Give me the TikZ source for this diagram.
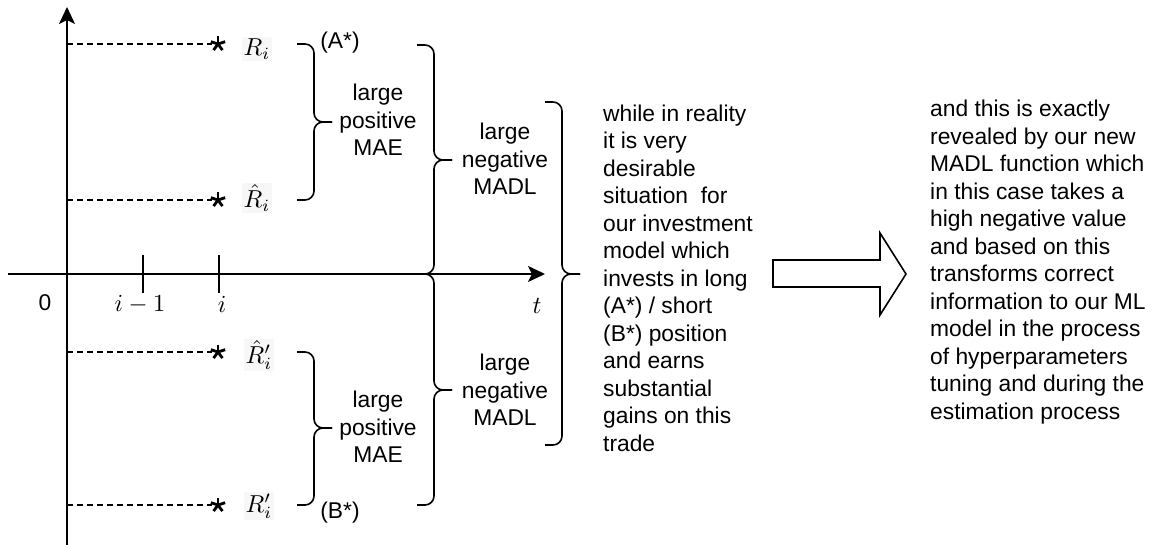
\documentclass[tikz,border=0pt]{standalone}
\usepackage{fontspec}
\usepackage{graphicx}
\setmainfont{Liberation Sans}
\usetikzlibrary{arrows.meta}
\newcommand\mystar[1]{\foreach \a in {-90,-18,54,126,198}{\draw[line width=2.8pt] (#1) -- ++(\a:7.5);}}
\newcommand\mymath[1]{\scalebox{2.45}{$#1$}}
\begin{document}
\begin{tikzpicture}[x=1pt,y=-1pt,
 lbl/.style={font=\fontsize{22.8}{27.5}\selectfont, align=center, inner sep=0},
 body/.style={font=\fontsize{22.8}{27.5}\selectfont, align=left, anchor=west, inner sep=0},
 mth/.style={inner sep=1.5pt, fill=black!3},
 plain/.style={inner sep=0},
 axis/.style={line width=1.6pt, -{Stealth[length=17pt,width=16pt,inset=4pt]}},
 brace/.style={line width=1.6pt, rounded corners=9pt},
 guide/.style={line width=1.3pt, dash pattern=on 6pt off 4pt},
 tick/.style={line width=1.6pt},
 bigarrow/.style={line width=1.6pt, line join=miter}]
\useasboundingbox (0,0) rectangle (1153,545);
% axes
\coordinate (yb) at (67,545);
\coordinate (yt) at (67,7);
\coordinate (xl) at (8,274);
\coordinate (xr) at (545,274);
\draw[axis] (yb) -- (yt);
\draw[axis] (xl) -- (xr);
% ticks
\coordinate (t1a) at (143,255); \coordinate (t1b) at (143,293);
\coordinate (t2a) at (219,255); \coordinate (t2b) at (219,293);
\draw[tick] (t1a) -- (t1b);
\draw[tick] (t2a) -- (t2b);
\node[lbl] (zero) at (45,303) {0};
\node[plain] (im1) at (140,304) {\mymath{i-1}};
\node[plain] (ii) at (222,304) {\mymath{i}};
\node[plain] (tt) at (537,306) {\mymath{t}};
% guide lines and stars
\coordinate (g1) at (67,44);  \coordinate (s1) at (218,44);
\coordinate (g2) at (67,200); \coordinate (s2) at (218,200);
\coordinate (g3) at (67,352); \coordinate (s3) at (218,352);
\coordinate (g4) at (67,505); \coordinate (s4) at (218,505);
\draw[guide] (g1) -- ([xshift=-6pt]s1);
\draw[guide] (g2) -- ([xshift=-6pt]s2);
\draw[guide] (g3) -- ([xshift=-6pt]s3);
\draw[guide] (g4) -- ([xshift=-6pt]s4);
\mystar{s1}\mystar{s2}\mystar{s3}\mystar{s4}
\node[mth] (r1) at (257,49) {\mymath{R_i}};
\node[mth] (r2) at (257,198) {\mymath{\hat{R}_i}};
\node[mth] (r3) at (259,355) {\mymath{\hat{R}'_i}};
\node[mth] (r4) at (259,506) {\mymath{R'_i}};
% braces
\draw[brace] (297,44) -- (314,44) -- (314,122) -- (332,122);
\draw[brace] (297,200) -- (314,200) -- (314,122) -- (332,122);
\draw[brace] (297,352) -- (314,352) -- (314,428) -- (332,428);
\draw[brace] (297,505) -- (314,505) -- (314,428) -- (332,428);
\draw[brace] (417,45) -- (434,45) -- (434,160) -- (452,160);
\draw[brace] (417,274) -- (434,274) -- (434,160) -- (452,160);
\draw[brace] (417,274) -- (434,274) -- (434,390) -- (452,390);
\draw[brace] (417,505) -- (434,505) -- (434,390) -- (452,390);
\draw[brace] (545,102) -- (562,102) -- (562,274) -- (580,274);
\draw[brace] (545,445) -- (562,445) -- (562,274) -- (580,274);
% labels
\node[lbl] (astar) at (340,43) {(A*)};
\node[lbl] (bstar) at (340,513) {(B*)};
\node[lbl] (mae1) at (378,120) {large\\positive\\MAE};
\node[lbl] (mae2) at (378,427) {large\\positive\\MAE};
\node[lbl] (madl1) at (505,159) {large\\negative\\MADL};
\node[lbl] (madl2) at (505,390) {large\\negative\\MADL};
\node[body] (txt1) at (603,278) {while in reality\\it is very\\desirable\\situation\ \ for\\our investment\\model which\\invests in long\\(A*) / short\\(B*) position\\and earns\\substantial\\gains on this\\trade};
\node[body] (txt2) at (930,262) {and this is exactly\\revealed by our new\\MADL function which\\in this case takes a\\high negative value\\and based on this\\transforms correct\\information to our ML\\model in the process\\of hyperparameters\\tuning and during the\\estimation process};
% block arrow
\draw[bigarrow] (773,260) -- (880,260) -- (880,233) -- (906,274) -- (880,315) -- (880,287) -- (773,287) -- cycle;
\end{tikzpicture}
\end{document}
